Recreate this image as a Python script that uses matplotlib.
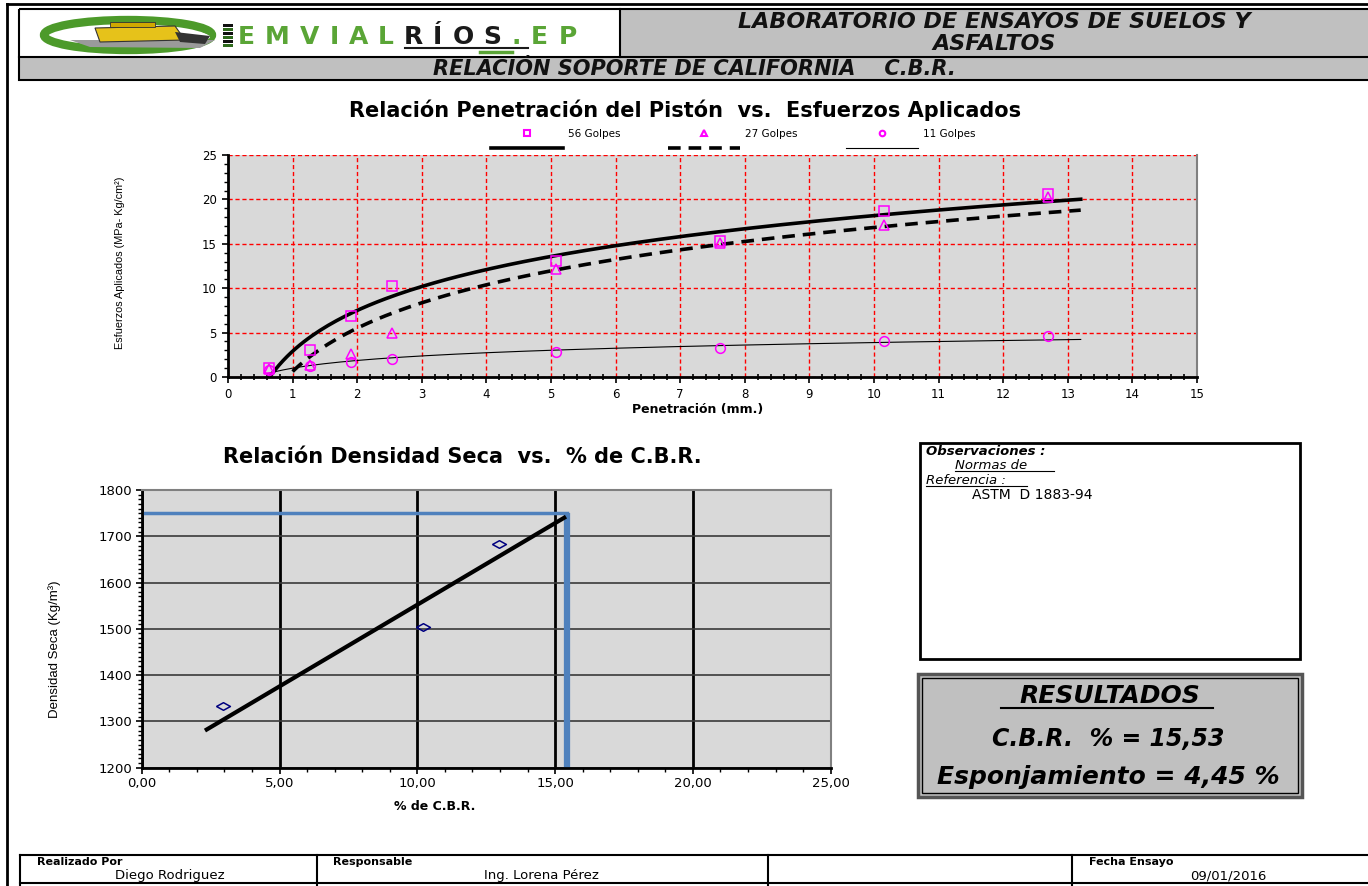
import numpy as np
import matplotlib.pyplot as plt
from matplotlib.patches import Rectangle, Ellipse, Polygon
from matplotlib.path import Path
from matplotlib.lines import Line2D
from matplotlib.ticker import MultipleLocator, FuncFormatter

plt.rcParams['font.family'] = ['DejaVu Sans']
NARROW = ['Liberation Sans', 'DejaVu Sans']

W, H = 1368, 886

# ---- data ----
penetracion = [0.64, 1.27, 1.91, 2.54, 5.08, 7.62, 10.16, 12.70]
esf_56 = [1.0, 3.0, 6.9, 10.2, 13.1, 15.3, 18.7, 20.6]
esf_27 = [0.9, 1.4, 2.6, 5.0, 12.2, 15.1, 17.1, 20.3]
esf_11 = [0.8, 1.2, 1.65, 2.0, 2.8, 3.3, 4.0, 4.6]
golpes = ['56 Golpes', '27 Golpes', '11 Golpes']
trend_x_range = (0.6, 13.2)

cbr_puntos = [2.96, 10.22, 12.96]
densidad_puntos = [1333, 1503, 1684]
cbr_linea_range = (2.36, 15.33)
densidad_max = 1750
cbr_linea = 15.42

cbr_resultado = '15,53'
esponjamiento = '4,45'


def box(x0, y0, x1, y1):
    # pixel box -> figure fraction rect
    return [x0 / W, 1 - y1 / H, (x1 - x0) / W, (y1 - y0) / H]


fig = plt.figure(figsize=(13.68, 8.86), dpi=100)

# background / page layout axes in pixel coordinates
bg = fig.add_axes([0, 0, 1, 1], zorder=0)
bg.set_xlim(0, W)
bg.set_ylim(H, 0)
bg.axis('off')

# page border
bg.plot([7, 7], [4, 886], color='black', lw=2)
bg.plot([7, W], [4, 4], color='black', lw=2)

# header
bg.add_patch(Rectangle((620, 9), W - 620, 48, facecolor='#c0c0c0', edgecolor='none'))
bg.add_patch(Rectangle((19, 57), W - 19, 23, facecolor='#c0c0c0', edgecolor='none'))
bg.add_patch(Rectangle((19, 9), W - 19 + 5, 71, facecolor='none', edgecolor='black', lw=1.5))
bg.plot([19, W], [57, 57], color='black', lw=1.5)
bg.plot([620, 620], [9, 57], color='black', lw=1.5)
bg.text(994, 22, 'LABORATORIO DE ENSAYOS DE SUELOS Y', ha='center', va='center',
        fontsize=16, fontweight='bold', fontstyle='italic', color='#111111')
bg.text(994, 44, 'ASFALTOS', ha='center', va='center',
        fontsize=16, fontweight='bold', fontstyle='italic', color='#111111')
bg.text(694, 69, 'RELACIÓN SOPORTE DE CALIFORNIA    C.B.R.', ha='center', va='center',
        fontsize=15, fontweight='bold', fontstyle='italic', color='#111111')

# logo (rough)
bg.add_patch(Ellipse((128, 35), 168, 30, facecolor='none', edgecolor='#4c9a2a', lw=6))
bg.add_patch(Ellipse((140, 37), 140, 18, facecolor='white', edgecolor='none'))
bg.add_patch(Polygon([[70, 40], [215, 40], [200, 48], [90, 47]], facecolor='#9a9a9a', edgecolor='none'))
bg.add_patch(Polygon([[95, 28], [175, 26], [185, 40], [100, 42]], facecolor='#e6c21a', edgecolor='#333333', lw=0.8))
bg.add_patch(Rectangle((110, 22), 45, 5, facecolor='#d0a800', edgecolor='#333333', lw=0.6))
bg.add_patch(Polygon([[175, 32], [210, 36], [205, 44], [180, 42]], facecolor='#333333', edgecolor='none'))
for k in range(6):
    bg.add_patch(Rectangle((223, 24 + k * 4), 10, 3, facecolor='#2e6b1c' if k % 2 else '#111111', edgecolor='none'))
# wide logo lettering: glyph advance (em) plus a fixed gap
ancho = {'E': .683, 'M': .995, 'V': .774, 'I': .372, 'A': .774, 'L': .637, 'R': .770,
         'Í': .372, 'O': .850, 'S': .720, '.': .380, 'P': .733}
logo_x = 238
for ch in 'EMVIALRÍOS.EP':
    col = '#1a1a1a' if ch in 'RÍOS' else '#5aa536'
    bg.text(logo_x, 37, ch, ha='left', va='center', fontsize=18, fontweight='heavy', color=col)
    logo_x += ancho[ch] * 18 * 100 / 72 + 10
bg.plot([405, 528], [48, 48], color='#1a1a1a', lw=1.5)
bg.plot([480, 512], [52, 52], color='#5aa536', lw=2.5)

# ---- chart 1: penetracion vs esfuerzos ----
bg.text(685, 110, 'Relación Penetración del Pistón  vs.  Esfuerzos Aplicados', ha='center',
        va='center', fontsize=15, fontweight='bold')
bg.text(120, 263, 'Esfuerzos Aplicados (MPa- Kg/cm²)', ha='center', va='center', rotation=90,
        fontsize=7.8, family=NARROW)
bg.text(698, 409, 'Penetración (mm.)', ha='center', va='center', fontsize=9, fontweight='bold')

ax1 = fig.add_axes(box(228, 155, 1197, 377), zorder=1)
ax1.set_facecolor('#d9d9d9')

x_log = np.log(penetracion)
xs = np.linspace(trend_x_range[0], trend_x_range[1], 200)
series = [(esf_56, 's', '-', 2.6), (esf_27, '^', (0, (3.5, 2.2)), 2.6), (esf_11, 'o', '-', 0.8)]
handles = []
for (ys, mk, ls, lw), lab in zip(series, golpes):
    ax1.plot(penetracion, ys, linestyle='none', marker=mk, markersize=7, markerfacecolor='none',
             markeredgecolor='#ff00ff', markeredgewidth=1.1, zorder=3)
    a, b = np.polyfit(x_log, ys, 1)
    ax1.plot(xs, a * np.log(xs) + b, color='black', linestyle=ls, lw=lw, zorder=2)
    handles.append(Line2D([], [], linestyle='none', marker=mk, markersize=4, markerfacecolor='none',
                          markeredgecolor='#ff00ff', markeredgewidth=1.5, label=lab))
    handles.append(Line2D([], [], color='black', linestyle=ls, lw=lw, label=' '))

ax1.set_xlim(0, 15)
ax1.set_ylim(0, 25)
ax1.xaxis.set_major_locator(MultipleLocator(1))
ax1.yaxis.set_major_locator(MultipleLocator(5))
ax1.xaxis.set_minor_locator(MultipleLocator(0.2))
ax1.yaxis.set_minor_locator(MultipleLocator(1))
ax1.grid(True, which='major', color='#ff0000', linestyle=(0, (3, 2)), lw=1)
ax1.set_axisbelow(True)
ax1.spines['top'].set_visible(False)
ax1.spines['right'].set_color('#808080')
ax1.spines['right'].set_linewidth(1.5)
for s in ['left', 'bottom']:
    ax1.spines[s].set_linewidth(2)
ax1.tick_params(which='major', length=4, width=1.2, labelsize=8.5, pad=4)
ax1.tick_params(axis='x', which='minor', direction='inout', length=4, width=1.2)
ax1.tick_params(axis='y', which='minor', direction='out', length=3, width=1)

fig.legend(handles=handles, ncol=3, loc='center', bbox_to_anchor=(733 / W, 1 - 141 / H),
           frameon=False, fontsize=7.5, handlelength=6.9, handletextpad=0.5, columnspacing=4.6,
           labelspacing=0.45)

# ---- chart 2: densidad vs CBR ----
bg.text(462, 457, 'Relación Densidad Seca  vs.  % de C.B.R.', ha='center', va='center',
        fontsize=15, fontweight='bold')
bg.text(55, 649, 'Densidad Seca (Kg/m³)', ha='center', va='center', rotation=90,
        fontsize=9.5, family=NARROW)
bg.text(435, 806, '% de C.B.R.', ha='center', va='center', fontsize=9, fontweight='bold')

ax2 = fig.add_axes(box(141.7, 490, 830.7, 767.7), zorder=1)
ax2.set_facecolor('#d9d9d9')

c, d = np.polyfit(densidad_puntos, cbr_puntos, 1)   # CBR as a function of density
lx = np.array(cbr_linea_range)
ax2.plot(lx, (lx - d) / c, color='black', lw=3, zorder=3)
diamante = Path([(-1, 0), (0, 0.55), (1, 0), (0, -0.55), (-1, 0)])
ax2.plot(cbr_puntos, densidad_puntos, linestyle='none', marker=diamante, markersize=10,
         markerfacecolor='none', markeredgecolor='#000080', markeredgewidth=1.1, zorder=4)

ax2.set_xlim(0, 25)
ax2.set_ylim(1200, 1800)
ax2.plot([0, cbr_linea], [densidad_max, densidad_max], color='#4f81bd', lw=2.5, zorder=2)
ax2.plot([cbr_linea, cbr_linea], [densidad_max, ax2.get_ylim()[0]], color='#4f81bd', lw=4.5,
         zorder=2, solid_capstyle='butt')

ax2.xaxis.set_major_locator(MultipleLocator(5))
ax2.yaxis.set_major_locator(MultipleLocator(100))
ax2.xaxis.set_minor_locator(MultipleLocator(1))
ax2.yaxis.set_minor_locator(MultipleLocator(10))
ax2.xaxis.set_major_formatter(FuncFormatter(lambda v, p: f'{v:.2f}'.replace('.', ',')))
ax2.grid(True, axis='x', which='major', color='black', lw=2)
ax2.grid(True, axis='y', which='major', color='#3a3a3a', lw=1.2)
ax2.set_axisbelow(True)
for s in ['top', 'right']:
    ax2.spines[s].set_color('#808080')
    ax2.spines[s].set_linewidth(1.5)
for s in ['left', 'bottom']:
    ax2.spines[s].set_linewidth(2)
ax2.tick_params(which='major', length=4, width=1.2, labelsize=9.5, pad=3)
ax2.tick_params(which='minor', length=3, width=1)

# ---- observaciones ----
bg.add_patch(Rectangle((920, 443), 380, 216, facecolor='white', edgecolor='black', lw=2))
bg.text(926, 451, 'Observaciones :', ha='left', va='center', fontsize=9.5, fontweight='bold',
        fontstyle='italic')
bg.text(955, 465, 'Normas de ', ha='left', va='center', fontsize=9.5, fontstyle='italic')
bg.plot([955, 1054], [471, 471], color='black', lw=0.8)
bg.text(926, 480, 'Referencia :', ha='left', va='center', fontsize=9.5, fontstyle='italic')
bg.plot([926, 1027], [486, 486], color='black', lw=0.8)
bg.text(972, 495, 'ASTM  D 1883-94', ha='left', va='center', fontsize=10)

# ---- resultados ----
bg.add_patch(Rectangle((918, 674), 384, 123, facecolor='#c0c0c0', edgecolor='#555555', lw=2.5))
bg.add_patch(Rectangle((922, 678), 376, 115, facecolor='none', edgecolor='black', lw=1))
bg.text(1110, 696, 'RESULTADOS', ha='center', va='center', fontsize=18, fontweight='bold',
        fontstyle='italic')
bg.plot([1001, 1213], [708, 708], color='black', lw=1.5)
bg.text(1108, 739, f'C.B.R.  % = {cbr_resultado}', ha='center', va='center', fontsize=17,
        fontweight='bold', fontstyle='italic')
bg.text(1108, 777, f'Esponjamiento = {esponjamiento} %', ha='center', va='center', fontsize=18,
        fontweight='bold', fontstyle='italic')

# ---- footer ----
bg.plot([20, W], [855, 855], color='black', lw=1.5)
bg.plot([20, W], [883, 883], color='black', lw=1.5)
for xv in [20, 317, 768, 1072]:
    bg.plot([xv, xv], [855, 886], color='black', lw=1.5)
bg.text(37, 862, 'Realizado Por', ha='left', va='center', fontsize=8, fontweight='bold')
bg.text(170, 876, 'Diego Rodriguez', ha='center', va='center', fontsize=9.5)
bg.text(333, 862, 'Responsable', ha='left', va='center', fontsize=8, fontweight='bold')
bg.text(541, 876, 'Ing. Lorena Pérez', ha='center', va='center', fontsize=9.5)
bg.text(1089, 862, 'Fecha Ensayo', ha='left', va='center', fontsize=8, fontweight='bold')
bg.text(1228, 876, '09/01/2016', ha='center', va='center', fontsize=9.5)

fig.savefig('out.png', dpi=100)
